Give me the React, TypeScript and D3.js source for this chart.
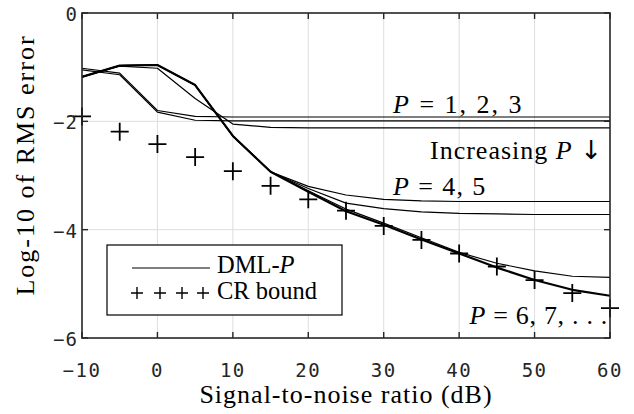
import React from "react";
import * as d3 from "d3";

const snr = [-10, -5, 0, 5, 10, 15, 20, 25, 30, 35, 40, 45, 50, 55, 60];
const dmlP1 = [-1.02, -1.11, -1.80, -1.91, -1.92, -1.92, -1.92, -1.92, -1.92, -1.92, -1.92, -1.92, -1.92, -1.92, -1.92];
const dmlP2 = [-1.05, -1.14, -1.83, -1.98, -1.99, -1.99, -1.99, -1.99, -1.99, -1.99, -1.99, -1.99, -1.99, -1.99, -1.99];
const dmlP3 = [-1.18, -0.98, -1.02, -1.58, -2.05, -2.11, -2.12, -2.12, -2.12, -2.12, -2.12, -2.12, -2.12, -2.12, -2.12];
const dmlP4 = [-1.18, -0.97, -0.96, -1.33, -2.27, -2.93, -3.20, -3.36, -3.44, -3.47, -3.48, -3.48, -3.48, -3.48, -3.48];
const dmlP5 = [-1.18, -0.97, -0.96, -1.33, -2.27, -2.93, -3.24, -3.51, -3.61, -3.67, -3.70, -3.71, -3.72, -3.72, -3.72];
const dmlP6 = [-1.18, -0.97, -0.96, -1.33, -2.27, -2.93, -3.28, -3.62, -3.88, -4.15, -4.42, -4.62, -4.76, -4.86, -4.88];
const dmlP7 = [-1.18, -0.97, -0.96, -1.33, -2.27, -2.93, -3.30, -3.66, -3.91, -4.18, -4.44, -4.70, -4.93, -5.11, -5.22];
const crBound = [-1.91, -2.19, -2.42, -2.66, -2.92, -3.19, -3.44, -3.65, -3.93, -4.19, -4.44, -4.68, -4.93, -5.17, -5.45];

const xTicks = [-10, 0, 10, 20, 30, 40, 50, 60];
const yTicks = [0, -2, -4, -6];

const series = [dmlP1, dmlP2, dmlP3, dmlP4, dmlP5, dmlP6, dmlP7];

const W = 634, H = 414;
const L = 82, R = 610, T = 13, B = 338;
const SERIF = "Liberation Serif";
const MONO = "DejaVu Sans Mono";

export default function App() {
  const x = d3.scaleLinear().domain([-10, 60]).range([L, R]);
  const y = d3.scaleLinear().domain([-6, 0]).range([B, T]);
  const line = d3.line<number>().x((_, i) => x(snr[i])).y((d) => y(d));
  const fmt = d3.format("d");
  const axisColor = "#262626";

  const plus = (cx: number, cy: number, h: number, sw: number, key: string) => (
    <path key={key} d={`M${cx - h},${cy}H${cx + h}M${cx},${cy - h}V${cy + h}`} stroke="#000" strokeWidth={sw} fill="none" />
  );

  return (
    <svg width={W} height={H} style={{ position: "absolute", left: 0, top: 0, background: "#fff" }}>
      <rect x={0} y={0} width={W} height={H} fill="#fff" />
      {xTicks.slice(1, -1).map((t) => (
        <line key={"gx" + t} x1={x(t)} x2={x(t)} y1={T} y2={B} stroke="#dedede" strokeWidth={1} />
      ))}
      {yTicks.slice(1, -1).map((t) => (
        <line key={"gy" + t} x1={L} x2={R} y1={y(t)} y2={y(t)} stroke="#dedede" strokeWidth={1} />
      ))}
      {series.map((s, i) => (
        <path key={"s" + i} d={line(s) || ""} fill="none" stroke="#000" strokeWidth={i === 6 ? 2.2 : 1.2} strokeLinejoin="round" />
      ))}
      {crBound.map((v, i) => plus(x(snr[i]), y(v), 9, 1.8, "cr" + i))}
      <rect x={L} y={T} width={R - L} height={B - T} fill="none" stroke={axisColor} strokeWidth={1.6} />
      {xTicks.map((t) => (
        <g key={"tx" + t}>
          <line x1={x(t)} x2={x(t)} y1={B} y2={B - 6} stroke={axisColor} strokeWidth={1.4} />
          <line x1={x(t)} x2={x(t)} y1={T} y2={T + 6} stroke={axisColor} strokeWidth={1.4} />
          <text x={x(t)} y={370} textAnchor="middle" dominantBaseline="central" fontFamily={MONO} fontSize={19} letterSpacing={1.5} fill="#262626">{fmt(t)}</text>
        </g>
      ))}
      {yTicks.map((t) => (
        <g key={"ty" + t}>
          <line x1={L} x2={L + 6} y1={y(t)} y2={y(t)} stroke={axisColor} strokeWidth={1.4} />
          <line x1={R} x2={R - 6} y1={y(t)} y2={y(t)} stroke={axisColor} strokeWidth={1.4} />
          <text x={78} y={y(t) + 1} textAnchor="end" dominantBaseline="central" fontFamily={MONO} fontSize={19} letterSpacing={1} fill="#262626">{fmt(t)}</text>
        </g>
      ))}
      <text x={(L + R) / 2} y={403} textAnchor="middle" fontFamily={SERIF} fontSize={26} letterSpacing={1}>Signal-to-noise ratio (dB)</text>
      <text transform={`translate(34,${165}) rotate(-90)`} textAnchor="middle" fontFamily={SERIF} fontSize={26} letterSpacing={2}>Log-10 of RMS error</text>
      <text x={393} y={113} fontFamily={SERIF} fontSize={26} letterSpacing={2}>
        <tspan fontStyle="italic">P</tspan> = 1, 2, 3
      </text>
      <text x={430} y={159} fontFamily={SERIF} fontSize={26} letterSpacing={1} fill="#000">
        Increasing <tspan fontStyle="italic">P</tspan> <tspan fontFamily="DejaVu Sans" fill="#000">{"\u2193\uFE0E"}</tspan>
      </text>
      <text x={393} y={195} fontFamily={SERIF} fontSize={26} letterSpacing={1.4}>
        <tspan fontStyle="italic">P</tspan> = 4, 5
      </text>
      <text x={608} y={324} textAnchor="end" fontFamily={SERIF} fontSize={26} letterSpacing={0.7}>
        <tspan fontStyle="italic">P</tspan> = 6, 7, . . .
      </text>
      <rect x={107} y={245} width={235} height={70} fill="#fff" stroke="#000" strokeWidth={1.2} />
      <line x1={132} x2={210} y1={268} y2={268} stroke="#000" strokeWidth={1.2} />
      <text x={217} y={273} fontFamily={SERIF} fontSize={24.5}>
        DML-<tspan fontStyle="italic">P</tspan>
      </text>
      {[137, 160, 182, 203].map((px, i) => plus(px, 293, 6, 1.4, "lg" + i))}
      <text x={217} y={299} fontFamily={SERIF} fontSize={24.5}>CR bound</text>
    </svg>
  );
}
